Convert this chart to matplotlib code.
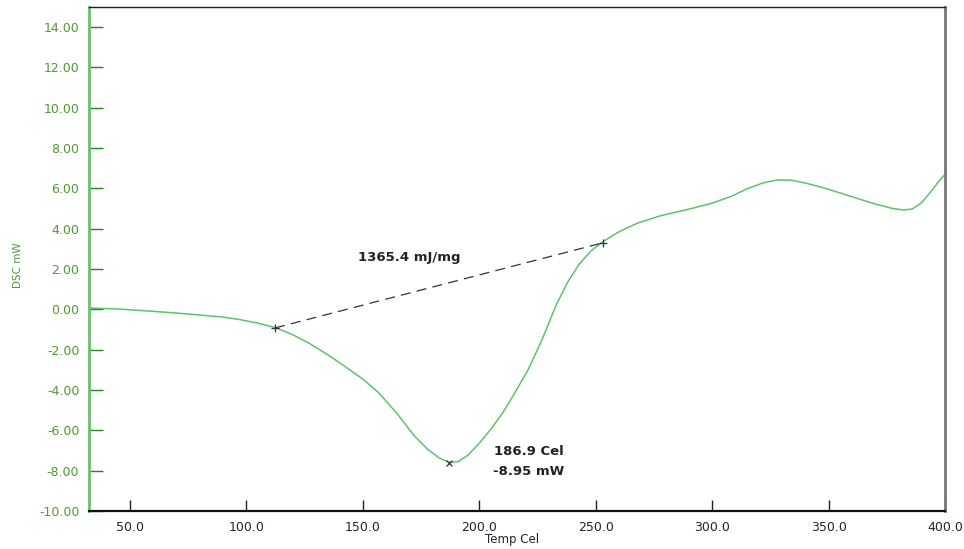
import matplotlib
matplotlib.use('Agg')
import matplotlib.pyplot as plt

# DSC curve
temp = [32.5, 45, 58, 70, 80, 90, 97, 105, 113, 120, 127, 135, 142, 150, 157,
        165, 172, 178, 183, 187, 191, 195, 200, 205, 210, 215, 221, 227, 233,
        238, 243, 248, 253, 260, 268, 278, 290, 300, 308, 315, 322, 328, 334,
        340, 347, 354, 362, 370, 377, 382, 386, 390, 394, 398, 400]
dsc = [0.07, 0.02, -0.08, -0.18, -0.28, -0.38, -0.5, -0.68, -0.92, -1.26, -1.68,
       -2.25, -2.8, -3.45, -4.15, -5.2, -6.25, -6.95, -7.38, -7.58, -7.55, -7.25,
       -6.65, -5.95, -5.15, -4.2, -3.0, -1.5, 0.2, 1.35, 2.25, 2.9, 3.35, 3.85, 4.28,
       4.65, 4.97, 5.27, 5.6, 5.98, 6.28, 6.42, 6.41, 6.27, 6.06, 5.81, 5.52, 5.23,
       5.02, 4.93, 4.98, 5.3, 5.85, 6.45, 6.7]

base_x = [112.4, 253]
base_y = [-0.92, 3.3]
peak_x, peak_y = 187, -7.6

xticks = [50, 100, 150, 200, 250, 300, 350, 400]
yticks = [-10, -8, -6, -4, -2, 0, 2, 4, 6, 8, 10, 12, 14]

green = '#5cc46a'
tick_green = '#4f9a35'

fig = plt.figure(figsize=(9.64, 5.49), dpi=100)
ax = fig.add_axes([89/964, 1 - 511/549, (945 - 89)/964, (511 - 7)/549])

ax.plot(temp, dsc, color=green, lw=1.1)
ax.plot(base_x, base_y, color='#333333', lw=0.9, ls=(0, (8, 5)))
ax.plot(base_x, base_y, ls='none', marker='+', ms=6, mew=0.9, color='#333333')
ax.plot([peak_x], [peak_y], ls='none', marker='x', ms=4, mew=0.9, color='#333333')

ax.text(148, 2.55, '1365.4 mJ/mg', fontsize=9.5, fontweight='bold', color='#222222',
        va='center')
ax.text(206.5, -7.05, '186.9 Cel', fontsize=9.5, fontweight='bold', color='#222222',
        va='center')
ax.text(206, -8.05, '-8.95 mW', fontsize=9.5, fontweight='bold', color='#222222',
        va='center')

ax.set_xlim(32.5, 400)
ax.set_ylim(-10, 15)
ax.set_xticks(xticks)
ax.set_xticklabels(['%.1f' % v for v in xticks])
ax.set_yticks(yticks)
ax.set_yticklabels(['%.2f' % v for v in yticks])

ax.tick_params(axis='y', direction='in', length=10, width=1, color='#1a8a1a',
               labelcolor=tick_green, labelsize=9, pad=7)
ax.tick_params(axis='x', direction='in', length=8, width=1, color='#222222',
               labelcolor='#222233', labelsize=9, pad=7)

ax.spines['left'].set_color('#6cbf6c')
ax.spines['left'].set_linewidth(2)
ax.spines['bottom'].set_color('#111111')
ax.spines['bottom'].set_linewidth(1.6)
ax.spines['top'].set_color('#222222')
ax.spines['top'].set_linewidth(1)
ax.spines['right'].set_color('#777777')
ax.spines['right'].set_linewidth(2)

fig.text(18/964, 1 - 265/549, 'DSC mW', rotation=90, fontsize=7.5, color=tick_green,
         ha='center', va='center')
fig.text(512/964, 1 - 540/549, 'Temp Cel', fontsize=8.5, color='#222233',
         ha='center', va='center')

fig.savefig('out.png', dpi=100)
